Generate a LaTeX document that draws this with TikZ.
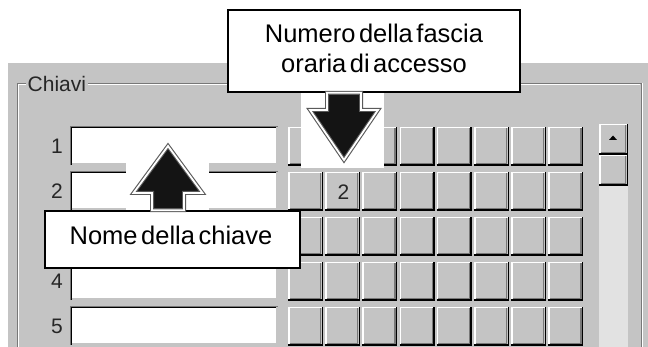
\documentclass[tikz,border=0pt]{standalone}
\usepackage{fontspec}
\setmainfont{Liberation Sans}[WordSpace=0.5]
\usetikzlibrary{positioning, calc}
\definecolor{winface}{RGB}{196,196,196}
\definecolor{winshadow}{RGB}{120,120,120}
\definecolor{wintrack}{RGB}{226,226,226}
\definecolor{arrowrim}{RGB}{90,90,90}

\begin{document}
\begin{tikzpicture}[x=1pt, y=-1pt,
    callout/.style={draw=black, line width=1.6pt, fill=white, inner sep=0pt,
                    font=\fontsize{25.5}{30}\selectfont, align=center},
    uitext/.style={inner sep=0pt, font=\fontsize{21}{24}\selectfont, text=black!85},
    blockarrow/.style={draw=arrowrim, line width=1.1pt, double=white,
                       double distance=1.8pt, fill=black!92, line join=miter},
    hilite/.style={white, line width=1.5pt},
    darkedge/.style={black, line width=1.5pt},
    midedge/.style={winshadow, line width=1.2pt}]

    \useasboundingbox[fill=white] (0,0) rectangle (648,347);
    \fill[winface] (8,63) rectangle (648,347);

    % group box
    \draw[winshadow] (26,83) -- (17,83) -- (17,350) (88,83) -- (641,83) -- (641,350);
    \draw[white] (26,84.5) -- (18.5,84.5) -- (18.5,350) (88,84.5) -- (639.5,84.5)
                 (642.5,83) -- (642.5,350);
    \node[uitext, anchor=west] (chiavi) at (27.5,84) {Chiavi};

    % key rows
    \foreach \r in {1,...,5}{
        \pgfmathsetmacro{\ytop}{126+45*(\r-1)}
        \node[uitext] (num\r) at (57,\ytop+20) {\r};
        \fill[white] (70,\ytop) rectangle (278,\ytop+39);
        \draw[winshadow] (70,\ytop+39) |- (278,\ytop);
        \draw[darkedge] (71.5,\ytop+39) |- (278,\ytop+1.5);
        \draw[winface, line width=1.5pt] (71.5,\ytop+38) -| (277,\ytop+1.5);
        \pgfmathsetmacro{\yb}{127+45*(\r-1)}
        \foreach \c in {1,...,8}{
            \pgfmathsetmacro{\xl}{288+37.2*(\c-1)}
            \fill[winface] (\xl,\yb) rectangle (\xl+35,\yb+39);
            \draw[hilite] (\xl+0.75,\yb+39) -- (\xl+0.75,\yb+0.75) -- (\xl+35,\yb+0.75);
            \draw[darkedge] (\xl,\yb+38.25) -- (\xl+34.25,\yb+38.25) -- (\xl+34.25,\yb);
            \draw[midedge] (\xl+1.5,\yb+36.6) -- (\xl+32.6,\yb+36.6) -- (\xl+32.6,\yb+1.5);
        }
    }
    \node[uitext] (slot) at (343.5,192) {2};

    % scroll bar
    \fill[wintrack] (599,186) rectangle (628,350);
    \foreach \yb/\h in {124/31, 155/31}{
        \fill[winface] (599,\yb) rectangle (628,\yb+\h);
        \draw[hilite] (599.75,\yb+\h) -- (599.75,\yb+0.75) -- (628,\yb+0.75);
        \draw[darkedge] (599,\yb+\h-0.75) -- (627.25,\yb+\h-0.75) -- (627.25,\yb);
        \draw[midedge] (600.5,\yb+\h-2.4) -- (625.6,\yb+\h-2.4) -- (625.6,\yb+1.5);
    }
    \fill[black] (609,140) -- (617,140) -- (613,135.5) -- cycle;

    % callouts
    \fill[white] (126,155) rectangle (209,211);
    \fill[white] (301,92) rectangle (384,168);
    \coordinate (nometip) at (168,146);
    \coordinate (fasciatip) at (344,160);
    \node[callout, minimum width=255pt, minimum height=57pt] (nome) at (172.5,239.5) {};
    \node[callout, minimum width=292pt, minimum height=82pt] (fascia) at (374,51) {};

    \draw[blockarrow] (nometip) -- ++(34.5,47) -- ++(-18.5,0)
        -- ($(nometip |- nome.north)+(16,0)$) -- ($(nometip |- nome.north)+(-16,0)$)
        -- ($(nometip)+(-16,47)$) -- ($(nometip)+(-34.5,47)$) -- cycle;
    \draw[blockarrow] (fasciatip) -- ++(-34,-50) -- ++(17,0)
        -- ($(fasciatip |- fascia.south)+(-17,0)$) -- ($(fasciatip |- fascia.south)+(17,0)$)
        -- ($(fasciatip)+(17,-50)$) -- ($(fasciatip)+(34,-50)$) -- cycle;

    \node[callout, draw=none, fill=none] (nometext) at (171,235) {Nome della chiave};
    \node[callout, draw=none, fill=none] (fasciatext) at (374,48)
        {Numero della fascia\\oraria di accesso};
\end{tikzpicture}
\end{document}
